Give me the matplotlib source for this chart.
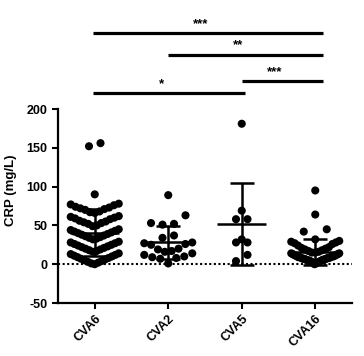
import numpy as np
import matplotlib
matplotlib.use("Agg")
import matplotlib.pyplot as plt

plt.rcParams['font.family'] = ['Liberation Sans', 'DejaVu Sans']
plt.rcParams['font.weight'] = 'bold'
plt.rcParams['axes.unicode_minus'] = False

# data (CRP, mg/L)
groups = ['CVA6', 'CVA2', 'CVA5', 'CVA16']
cva6 = [0, 1, 2, 3, 4, 5, 6, 7, 8, 9, 10, 11, 12, 13, 14,
        16, 17, 18, 19, 20, 21, 22, 23, 24, 25, 26, 27, 28, 29,
        32, 33, 34, 35, 36, 37, 38, 39, 40, 41, 42, 43, 44, 45,
        49, 50, 52, 53, 54, 55, 56, 58, 59, 60, 61, 62,
        66, 67, 68, 70, 71, 72, 73, 74, 76, 77, 78,
        90, 152, 156]
cva2 = [89, 63, 53, 52, 51, 37, 34, 28, 27, 26, 25, 20, 19, 17, 16,
        14, 12, 10, 9, 8, 7, 1]
cva5 = [181, 69, 58, 58, 32, 28, 28, 12, 4]
cva16 = [95, 64, 45, 42, 32, 30, 29, 28, 27, 26, 24, 22, 21, 20, 19, 18, 17, 16,
         15, 15, 14, 14, 13, 13, 12, 12, 11, 11, 10, 10, 10, 9, 9, 9,
         8, 8, 8, 7, 7, 7, 6, 6, 6, 5, 5, 5, 4, 4, 3, 3, 2, 2, 1, 0]
values = [cva6, cva2, cva5, cva16]

# significance comparisons: (from group, to group, label)
comparisons = [(0, 3, '***'), (1, 3, '**'), (2, 3, '***'), (0, 2, '*')]
yticks = [-50, 0, 50, 100, 150, 200]

fig = plt.figure(figsize=(3.64, 3.56), dpi=100)
ax = fig.add_axes([58/364, 1-303/356, 294/364, 194/356])
ax.set_xlim(-0.5, 3.5)
ax.set_ylim(-50, 200)
PX = 294/4.0  # pixels per category


def swarm(vals, center, h=16.5, start=-2, gap=11.5, half=24):
    bins = {}
    for v in vals:
        bins.setdefault(int((v - start) // h), []).append(v)
    xs, ys = [], []
    for b, row in bins.items():
        row = sorted(row)
        n = len(row)
        step = min(gap, 2*half/(n-1)) if n > 1 else 0
        for i, v in enumerate(row):
            if n % 2:
                k = (i+1)//2 * (-1 if i % 2 else 1)
            else:
                k = (i//2 + 0.5) * (-1 if i % 2 == 0 else 1)
            xs.append(center + k*step/PX)
            ys.append(v)
    return xs, ys


ax.axhline(0, color='k', ls=(0, (1, 1.2)), lw=1.5, zorder=1)

for i, vals in enumerate(values):
    xs, ys = swarm(vals, i)
    ax.scatter(xs, ys, s=34, color='black', edgecolors='none', zorder=2)
    m = np.mean(vals)
    sd = np.std(vals, ddof=1)
    ax.hlines(m, i-0.33, i+0.33, color='black', lw=1.8, zorder=3)
    ax.vlines(i, m-sd, m+sd, color='black', lw=1.8, zorder=3)
    ax.hlines([m-sd, m+sd], i-0.165, i+0.165, color='black', lw=1.8, zorder=3)

# significance bars above the axes
bar_y = [298, 270, 236, 220]
for (a, b, lab), y in zip(comparisons, bar_y):
    x1 = a - 0.03 if a == 0 else a
    x2 = b + 0.1
    if b == 2:
        x2 = b + 0.05
    ax.plot([x1, x2], [y, y], color='black', lw=2.3, clip_on=False, solid_capstyle='butt')
    ax.text((x1+x2)/2 - 0.1, y + 4, lab, ha='center', va='bottom', fontsize=9.5)

ax.set_xticks(range(len(groups)))
ax.set_xticklabels(groups, rotation=45, ha='right', va='top', rotation_mode='anchor', fontsize=9)
ax.set_yticks(yticks)
ax.tick_params(axis='y', labelsize=9, width=1.5, length=4)
ax.tick_params(axis='x', width=1.5, length=4, pad=3)
ax.set_ylabel('CRP (mg/L)', fontsize=9.5, fontweight='bold')
ax.yaxis.set_label_coords(-0.14, 0.58)
for s in ['top', 'right']:
    ax.spines[s].set_visible(False)
for s in ['left', 'bottom']:
    ax.spines[s].set_linewidth(1.6)

fig.savefig('out.png', dpi=100)
